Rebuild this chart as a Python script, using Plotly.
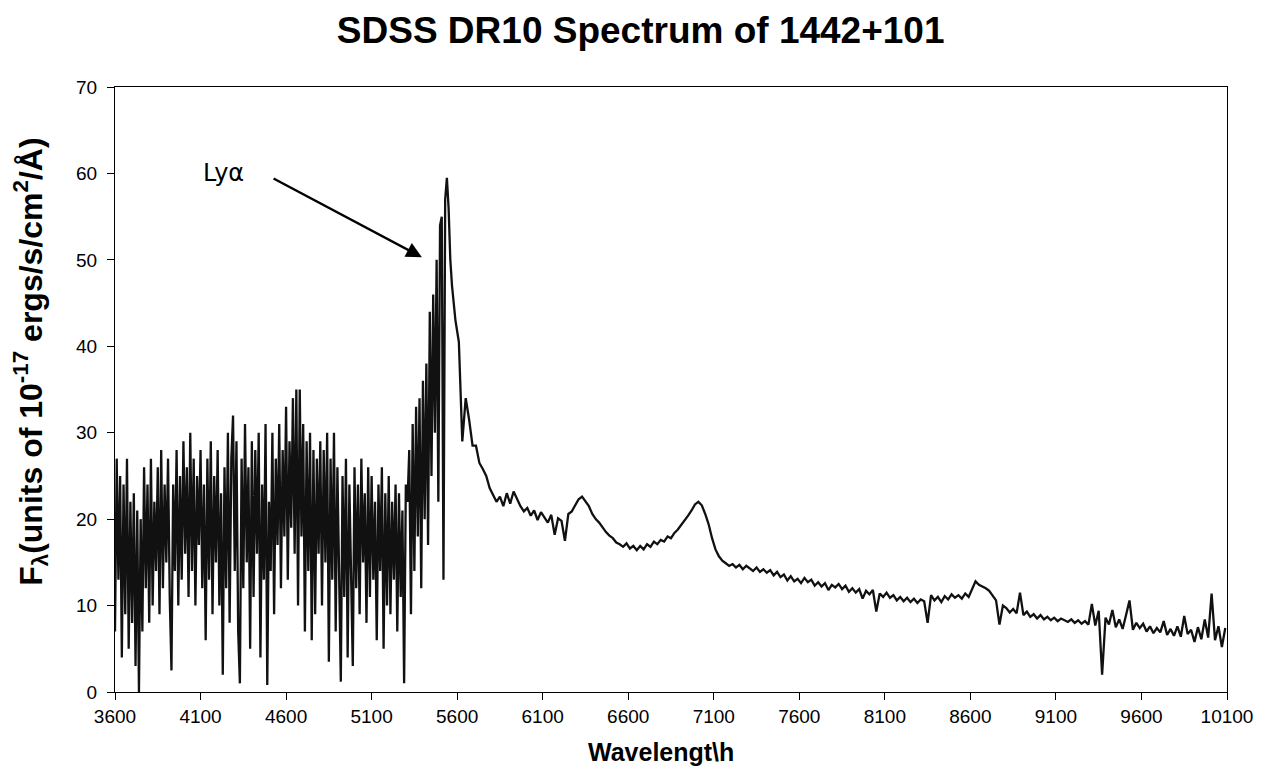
import plotly.graph_objects as go

# Noisy blue part + Lyman-alpha peak: 3600..5560 A, step 10 A
noisy_start = 3600
noisy_step = 10
noisy_flux = [
    7, 27, 13, 25, 4, 24, 9, 27, 5, 22,          # 3600
    8, 23, 3, 21, 0, 20, 7, 26, 12, 24,          # 3700
    8, 27, 10, 22, 14, 26, 9, 28, 12, 24,        # 3800
    15, 27, 11, 2.5, 24, 14, 28, 10, 25, 13,     # 3900
    29, 16, 26, 11, 30, 14, 27, 10, 25, 17,      # 4000
    28, 12, 24, 6, 27, 13, 29, 9, 25, 15,        # 4100
    28, 10, 23, 2, 26, 12, 30, 8, 27, 32,        # 4200
    14, 29, 7, 1, 27, 12, 31, 15, 26, 5,         # 4300
    29, 11, 28, 16, 30, 4, 24, 13, 31, 0.8,      # 4400
    22, 14, 30, 9, 27, 17, 31, 12, 28, 18,       # 4500
    33, 13, 29, 19, 34, 16, 35, 10, 35, 18,      # 4600
    31, 7, 29, 14, 30, 6, 28, 9, 27, 16,         # 4700
    29, 10, 28, 15, 30, 3.5, 27, 13, 30, 7,      # 4800
    26, 12, 1.2, 25, 11, 27, 4, 24, 14, 3,       # 4900
    26, 12, 24, 9, 27, 15, 23, 8, 26, 11,        # 5000
    25, 13, 22, 6, 24, 14, 26, 5, 23, 10,        # 5100
    25, 9, 22, 13, 24, 7, 23, 11, 21, 1,         # 5200
    24, 22, 28, 9, 31, 14, 33, 18, 34, 12,       # 5300
    36, 20, 38, 17, 44, 25, 46, 30, 50, 22,      # 5400
    54, 55, 13, 57, 59.5, 56, 50,                # 5500..5560
]

# Red side continuum: 5570..10090 A, step 20 A
red_start = 5570
red_step = 20
red_flux = [
    47, 43, 40.5, 29, 34, 31.5, 28.5, 28.5, 26.5, 25.8,          # 5570
    25, 23.6, 22.8, 22, 22.6, 21.5, 23, 21.8, 23.2, 22.4,        # 5770
    21.5, 20.9, 21.3, 20.4, 21, 19.9, 20.8, 20.2, 19.6, 20.5,    # 5970
    18.2, 20.1, 19.8, 17.5, 20.6, 20.9, 21.6, 22.3, 22.6, 22,    # 6170
    21.5, 20.6, 20, 19.6, 19, 18.5, 18.1, 17.8, 17.3, 17.1,      # 6370
    16.8, 17.2, 16.6, 16.9, 16.4, 16.9, 16.5, 17.1, 16.8, 17.4,  # 6570
    17.1, 17.6, 17.4, 18, 17.8, 18.4, 18.8, 19.3, 19.8, 20.4,    # 6770
    21, 21.7, 22, 21.6, 20.6, 19.4, 17.8, 16.5, 15.7, 15.2,      # 6970
    14.9, 14.6, 14.8, 14.4, 14.7, 14.2, 14.6, 14.3, 14.0, 14.4,  # 7170
    13.9, 14.2, 13.8, 14.1, 13.5, 13.9, 13.3, 13.6, 12.9, 13.4,  # 7370
    12.8, 13.1, 12.6, 13.2, 12.7, 13.0, 12.3, 12.7, 12.2, 12.6,  # 7570
    11.8, 12.4, 12.1, 12.5, 11.9, 12.3, 11.6, 12.0, 11.5, 11.9,  # 7770
    10.8, 11.7, 11.3, 11.8, 9.3, 11.4, 11.0, 11.5, 10.9, 11.2,   # 7970
    10.6, 11.0, 10.5, 10.9, 10.4, 10.8, 10.3, 10.7, 10.5, 8.0,   # 8170
    11.2, 10.6, 11.0, 10.4, 11.1, 10.7, 11.3, 10.9, 11.2, 10.8,  # 8370
    11.4, 11.0, 11.9, 12.8, 12.4, 12.2, 12.0, 11.7, 11.2, 10.6,  # 8570
    7.8, 10.0, 9.7, 9.2, 9.6, 9.1, 11.5, 8.9, 9.3, 8.7,          # 8770
    9.0, 8.5, 8.9, 8.4, 8.7, 8.3, 8.6, 8.2, 8.5, 8.3,            # 8970
    8.1, 8.4, 8.0, 8.3, 7.9, 8.2, 7.8, 10.2, 7.7, 9.4,           # 9170
    2.0, 8.6, 7.8, 9.5, 7.5, 8.4, 7.3, 8.9, 10.6, 7.2,           # 9370
    8.0, 7.4, 7.9, 7.0, 7.6, 6.8, 7.4, 6.9, 8.2, 6.6,            # 9570
    7.3, 6.5, 7.6, 6.4, 8.8, 6.7, 7.2, 5.8, 7.5, 6.1,            # 9770
    8.4, 6.3, 11.4, 6.0, 7.6, 5.2, 7.4,                          # 9970..10090
]

x_ticks = [3600, 4100, 4600, 5100, 5600, 6100, 6600, 7100, 7600, 8100, 8600, 9100, 9600, 10100]
y_ticks = [0, 10, 20, 30, 40, 50, 60, 70]

wavelength = [noisy_start + noisy_step * i for i in range(len(noisy_flux))] + \
             [red_start + red_step * i for i in range(len(red_flux))]
flux = noisy_flux + red_flux

FONT = "Liberation Sans, Arial, sans-serif"

fig = go.Figure()
fig.add_trace(go.Scatter(x=wavelength, y=flux, mode="lines",
                         line=dict(color="#111111", width=2.3), showlegend=False))

fig.update_layout(
    width=1273, height=774,
    margin=dict(l=107, r=54, t=79, b=90),
    paper_bgcolor="white", plot_bgcolor="white",
    title=dict(text="<b>SDSS DR10 Spectrum of 1442+101</b>", x=0.497, xanchor="center",
               y=0.9716, yanchor="middle", font=dict(family=FONT, size=37, color="black")),
    font=dict(family=FONT, color="black"),
)
fig.update_xaxes(range=[3600, 10100], tickvals=x_ticks, ticktext=[str(v) for v in x_ticks],
                 ticks="outside", ticklen=7, tickcolor="black", showline=True, linecolor="black",
                 linewidth=1, mirror=True, showgrid=False, zeroline=False, automargin=False,
                 ticklabelstandoff=0, tickfont=dict(size=19, family=FONT))
fig.update_yaxes(range=[0, 70], tickvals=y_ticks, ticks="outside", ticklen=7, tickcolor="black",
                 showline=True, linecolor="black", linewidth=1, mirror=True, showgrid=False,
                 zeroline=False, automargin=False, ticklabelstandoff=6,
                 tickfont=dict(size=19, family=FONT))

# axis titles
fig.add_annotation(x=6791, xref="x", y=0, yref="paper", yshift=-60, yanchor="middle",
                   text="<b>Wavelengt\\h</b>", showarrow=False,
                   font=dict(family=FONT, size=25, color="black"))
fig.add_annotation(x=0, xref="paper", xshift=-84, xanchor="center", y=38.2, yref="y",
                   yanchor="middle", textangle=-90,
                   text="<b>F<sub>λ</sub>(units of 10<sup>-17</sup> ergs/s/cm<sup>2</sup>/Å)</b>",
                   showarrow=False, font=dict(family=FONT, size=32, color="black"))

# Lyman-alpha label and arrow
fig.add_annotation(x=4237, y=60.07, xref="x", yref="y", text="Lyα", showarrow=False,
                   font=dict(family="DejaVu Sans, sans-serif", size=24, color="black"))
fig.add_annotation(x=5394, y=50.3, xref="x", yref="y", ax=4518, ay=59.5, axref="x", ayref="y",
                   text="", showarrow=True, arrowhead=2, arrowsize=1.3, arrowwidth=2.4,
                   arrowcolor="black")

fig.write_html("out.html")
